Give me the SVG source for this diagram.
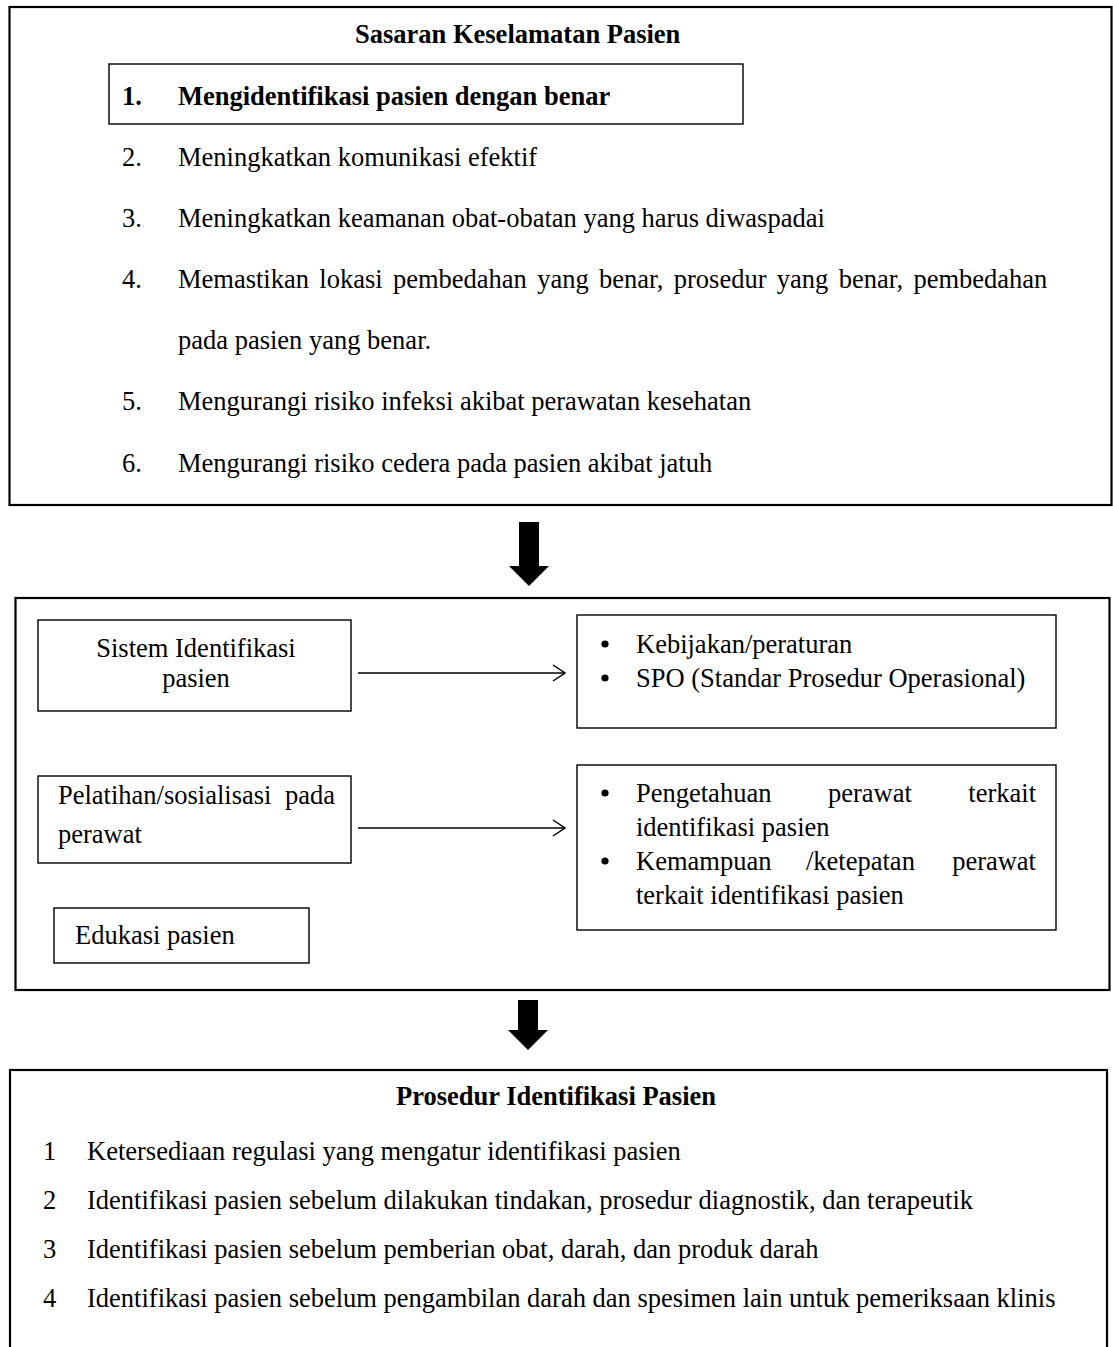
<svg xmlns="http://www.w3.org/2000/svg" width="1113" height="1347" viewBox="0 0 1113 1347">
<defs>
<style>
text{font-family:"Liberation Serif","Times New Roman",serif;font-size:26.5px;fill:#000}
.b{font-weight:bold}
.outer{fill:none;stroke:#000;stroke-width:2.2}
.box{fill:#fff;stroke:#000;stroke-width:1.4}
.thin{stroke:#000;stroke-width:1.6;fill:none}
.big{fill:#000;stroke:none}
.mid{text-anchor:middle}
.end{text-anchor:end}
</style>
<marker id="open" viewBox="0 0 14 18" refX="13" refY="9" markerWidth="14" markerHeight="18" markerUnits="userSpaceOnUse" orient="auto">
<path d="M1,1 L13,9 L1,17" fill="none" stroke="#000" stroke-width="1.5"/>
</marker>
</defs>
<rect width="1113" height="1347" fill="#fff"/>

<g id="sasaran">
<rect class="outer" x="9.5" y="7" width="1102" height="498"/>
<text class="b" x="355" y="43">Sasaran Keselamatan Pasien</text>
<rect class="box" x="109" y="64" width="634" height="60" stroke-width="1.8"/>
<text class="b" x="122" y="105">1.</text>
<text class="b" x="178" y="105">Mengidentifikasi pasien dengan benar</text>
<text x="122" y="166">2.</text>
<text x="178" y="166">Meningkatkan komunikasi efektif</text>
<text x="122" y="227">3.</text>
<text x="178" y="227">Meningkatkan keamanan obat-obatan yang harus diwaspadai</text>
<text x="122" y="288">4.</text>
<text x="178" y="288" word-spacing="3.7">Memastikan lokasi pembedahan yang benar, prosedur yang benar, pembedahan</text>
<text x="178" y="349">pada pasien yang benar.</text>
<text x="122" y="410">5.</text>
<text x="178" y="410">Mengurangi risiko infeksi akibat perawatan kesehatan</text>
<text x="122" y="472">6.</text>
<text x="178" y="472">Mengurangi risiko cedera pada pasien akibat jatuh</text>
</g>

<g id="middle">
<rect class="outer" x="15.5" y="598" width="1094" height="392"/>
</g>

<g id="sistem">
<rect class="box" x="38" y="620" width="313" height="91"/>
<text class="mid" x="196" y="657">Sistem Identifikasi</text>
<text class="mid" x="196" y="687">pasien</text>
</g>

<g id="kebijakan">
<rect class="box" x="577" y="615" width="479" height="113"/>
<circle cx="605" cy="644" r="3.6"/>
<text x="636" y="653">Kebijakan/peraturan</text>
<circle cx="605" cy="678" r="3.6"/>
<text x="636" y="687">SPO (Standar Prosedur Operasional)</text>
</g>

<g id="pelatihan">
<rect class="box" x="38" y="776" width="313" height="87"/>
<text x="58" y="804">Pelatihan/sosialisasi</text>
<text class="end" x="335" y="804">pada</text>
<text x="58" y="843">perawat</text>
</g>

<g id="pengetahuan">
<rect class="box" x="577" y="765" width="479" height="165"/>
<circle cx="605" cy="793" r="3.6"/>
<text x="636" y="802">Pengetahuan</text>
<text x="828" y="802">perawat</text>
<text class="end" x="1036" y="802">terkait</text>
<text x="636" y="836">identifikasi pasien</text>
<circle cx="605" cy="861" r="3.6"/>
<text x="636" y="870">Kemampuan</text>
<text x="806" y="870">/ketepatan</text>
<text class="end" x="1036" y="870">perawat</text>
<text x="636" y="904">terkait identifikasi pasien</text>
</g>

<g id="edukasi">
<rect class="box" x="54" y="908" width="255" height="55"/>
<text x="75" y="944">Edukasi pasien</text>
</g>

<g id="prosedur">
<rect class="outer" x="10" y="1070" width="1097" height="300"/>
<text class="b" x="396" y="1105">Prosedur Identifikasi Pasien</text>
<text x="43" y="1160">1</text>
<text x="87" y="1160">Ketersediaan regulasi yang mengatur identifikasi pasien</text>
<text x="43" y="1209">2</text>
<text x="87" y="1209">Identifikasi pasien sebelum dilakukan tindakan, prosedur diagnostik, dan terapeutik</text>
<text x="43" y="1258">3</text>
<text x="87" y="1258">Identifikasi pasien sebelum pemberian obat, darah, dan produk darah</text>
<text x="43" y="1307">4</text>
<text x="87" y="1307">Identifikasi pasien sebelum pengambilan darah dan spesimen lain untuk pemeriksaan klinis</text>
</g>

<g id="connectors">
<path class="big" d="M519,522 H539 V566 H549 L529,586 L509,566 H519 Z"/>
<path class="big" d="M518,1000 H538 V1030 H548 L528,1050 L508,1030 H518 Z"/>
<line class="thin" x1="358" y1="673" x2="565" y2="673" marker-end="url(#open)"/>
<line class="thin" x1="358" y1="828" x2="565" y2="828" marker-end="url(#open)"/>
</g>
</svg>
